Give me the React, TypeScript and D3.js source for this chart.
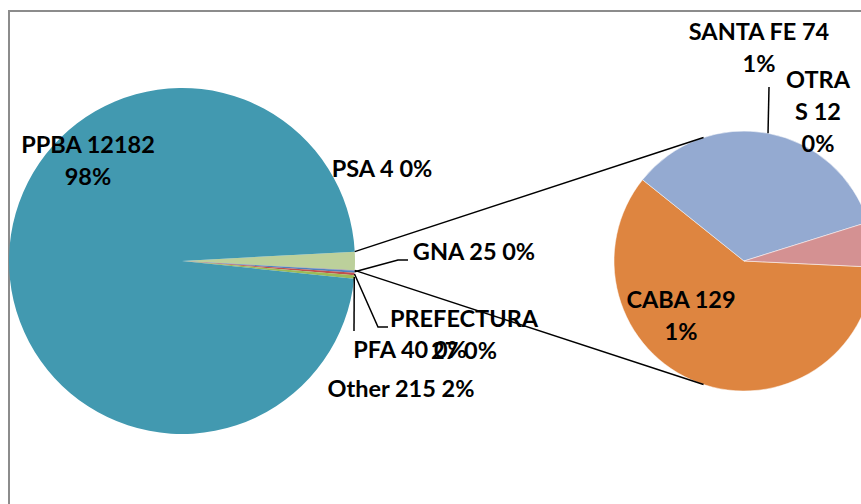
import * as d3 from 'd3';
import React from 'react';

// main pie: "Other" is split off into the second pie
const mainNames = ['Other', 'PSA', 'GNA', 'PREFECTURA', 'PFA', 'PPBA'];
const mainValues = [215, 4, 25, 27, 40, 12182];
const mainColors = ['#BCD09B', '#8064A2', '#4F81BD', '#C0504D', '#9BBB59', '#4299B0'];

// second pie: breakdown of "Other"
const subNames = ['CABA', 'SANTA FE', 'OTRAS'];
const subValues = [129, 74, 12];
const subColors = ['#DE8540', '#94AAD1', '#D49192'];

// label text lines (Excel wrapped some of them)
const mainLabelLines = (name: string, v: number, p: string): string[] => {
  if (name === 'PPBA') return [`${name} ${v}`, p];
  if (name === 'PREFECTURA') return [name, `${v} ${p}`];
  return [`${name} ${v} ${p}`];
};
const subLabelLines = (name: string, v: number, p: string): string[] => {
  if (name === 'OTRAS') return ['OTRA', `S ${v}`, p];
  return [`${name} ${v}`, p];
};

// label placement: centre x, first baseline, optional leader elbow
const mainLabelPos: Record<string, { x: number; y: number; elbow?: [number, number][] }> = {
  PPBA: { x: 88, y: 153 },
  PSA: { x: 382, y: 177 },
  GNA: { x: 474, y: 260, elbow: [[398, 260], [408, 260]] },
  PREFECTURA: { x: 464, y: 327, elbow: [[378, 327], [388, 327]] },
  PFA: { x: 410, y: 358, elbow: [[354, 331]] },
  Other: { x: 401, y: 397 },
};
const subLabelPos: Record<string, { x: number; y: number; elbow?: [number, number][] }> = {
  CABA: { x: 681, y: 308 },
  'SANTA FE': { x: 759, y: 40, elbow: [[769, 87]] },
  OTRAS: { x: 818, y: 88 },
};

const W = 861;
const H = 504;
const LINE_H = 32;

export default function App() {
  const total = d3.sum(mainValues);
  const pct = d3.format('.0%');

  // main pie
  const cx1 = 182;
  const cy = 261;
  const r1 = 173;
  const otherAngle = (2 * Math.PI * mainValues[0]) / total;
  const start1 = Math.PI / 2 - otherAngle / 2;
  const pie1 = d3
    .pie<number>()
    .sort(null)
    .value((d) => d)
    .startAngle(start1)
    .endAngle(start1 + 2 * Math.PI);
  const arcs1 = pie1(mainValues);
  const arc1 = d3.arc<d3.PieArcDatum<number>>().innerRadius(0).outerRadius(r1);

  // second pie
  const cx2 = 744;
  const r2 = 130;
  const start2 = Math.PI / 2 + 0.047;
  const pie2 = d3
    .pie<number>()
    .sort(null)
    .value((d) => d)
    .startAngle(start2)
    .endAngle(start2 + 2 * Math.PI);
  const arcs2 = pie2(subValues);
  const arc2 = d3.arc<d3.PieArcDatum<number>>().innerRadius(0).outerRadius(r2);

  const edge = (cx: number, r: number, a: number): [number, number] => [
    cx + r * Math.sin(a),
    cy - r * Math.cos(a),
  ];

  // connector lines: from "Other" slice edges, tangent to the second pie
  const pTop = edge(cx1, r1, arcs1[0].startAngle);
  const pBot = edge(cx1, r1, arcs1[0].endAngle);
  const tangent = (p: [number, number], sign: number): [number, number] => {
    const dx = p[0] - cx2;
    const dy = p[1] - cy;
    const d = Math.hypot(dx, dy);
    const phi = Math.atan2(dy, dx) + sign * Math.acos(r2 / d);
    return [cx2 + r2 * Math.cos(phi), cy + r2 * Math.sin(phi)];
  };
  const tTop = tangent(pTop, 1);
  const tBot = tangent(pBot, -1);
  const line = d3.line();

  const font = { fontFamily: 'Lato, sans-serif', fontWeight: 700, fontSize: 23.5 };

  const renderLabel = (lines: string[], x: number, y: number, key: string) => (
    <text key={key} x={x} y={y} textAnchor="middle" fill="#000" style={font}>
      {lines.map((l, i) => (
        <tspan key={i} x={x} dy={i === 0 ? 0 : LINE_H}>
          {l}
        </tspan>
      ))}
    </text>
  );

  return (
    <svg width={W} height={H} style={{ position: 'absolute', left: 0, top: 0 }}>
      <rect width={W} height={H} fill="#fff" />
      <rect x={9} y={11} width={W + 20} height={H + 20} fill="none" stroke="#8c8c8c" strokeWidth={2} />

      {/* main pie */}
      <g transform={`translate(${cx1},${cy})`}>
        {arcs1.map((a, i) => (
          <path key={i} d={arc1(a) || ''} fill={mainColors[i]} />
        ))}
      </g>

      {/* second pie */}
      <g transform={`translate(${cx2},${cy})`}>
        {arcs2.map((a, i) => (
          <path key={i} d={arc2(a) || ''} fill={subColors[i]} stroke="#fff" strokeWidth={0.5} />
        ))}
      </g>

      {/* connectors */}
      <path d={line([pTop, tTop]) || ''} stroke="#000" strokeWidth={1.5} fill="none" />
      <path d={line([pBot, tBot]) || ''} stroke="#000" strokeWidth={1.5} fill="none" />

      {/* leader lines */}
      {arcs1.map((a, i) => {
        const pos = mainLabelPos[mainNames[i]];
        if (!pos.elbow) return null;
        const p = edge(cx1, r1, (a.startAngle + a.endAngle) / 2);
        return <path key={`l1${i}`} d={line([p, ...pos.elbow]) || ''} stroke="#000" strokeWidth={1.5} fill="none" />;
      })}
      {arcs2.map((a, i) => {
        const pos = subLabelPos[subNames[i]];
        if (!pos.elbow) return null;
        const p = edge(cx2, r2, (a.startAngle + a.endAngle) / 2);
        return <path key={`l2${i}`} d={line([p, ...pos.elbow]) || ''} stroke="#000" strokeWidth={1.5} fill="none" />;
      })}

      {/* labels */}
      {mainNames.map((n, i) => {
        const pos = mainLabelPos[n];
        return renderLabel(mainLabelLines(n, mainValues[i], pct(mainValues[i] / total)), pos.x, pos.y, `t1${i}`);
      })}
      {subNames.map((n, i) => {
        const pos = subLabelPos[n];
        return renderLabel(subLabelLines(n, subValues[i], pct(subValues[i] / total)), pos.x, pos.y, `t2${i}`);
      })}
    </svg>
  );
}
